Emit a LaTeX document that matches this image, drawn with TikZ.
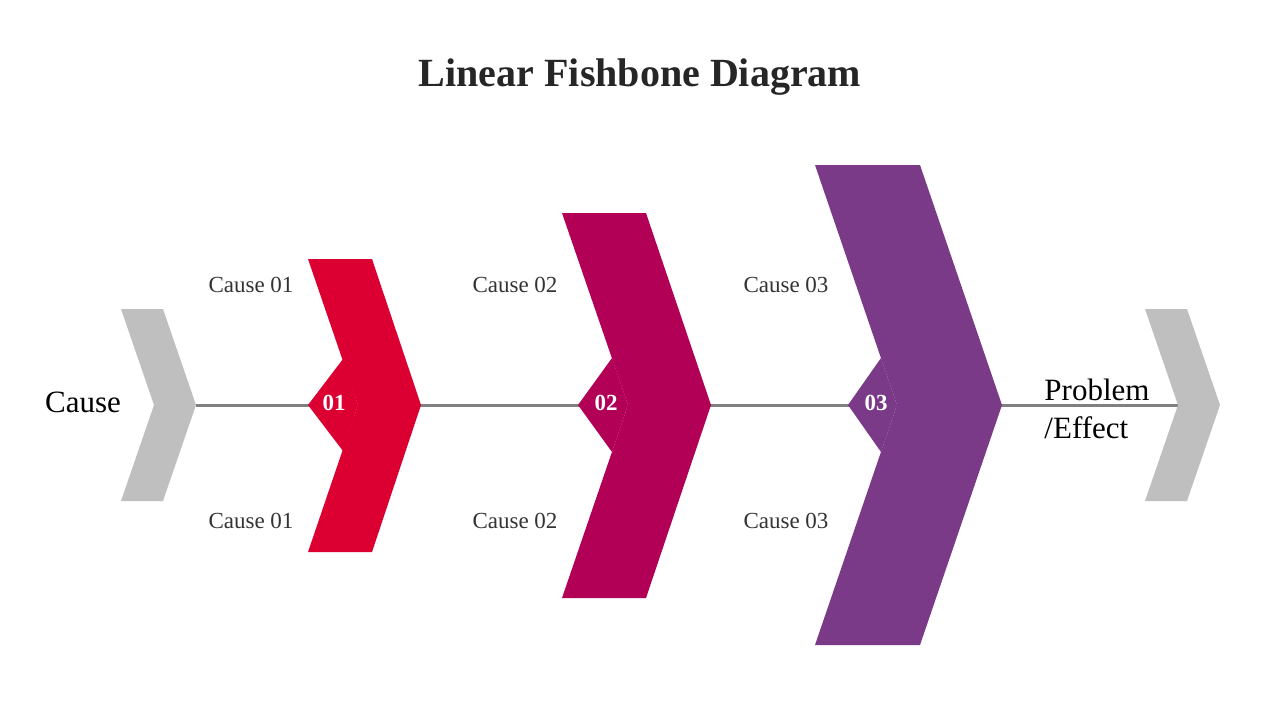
\documentclass[tikz,border=0pt]{standalone}
\usepackage{fontspec}
\setmainfont{Liberation Serif}
\begin{document}
\begin{tikzpicture}[x=1pt,y=-1pt,
  lbl/.style={font=\fontsize{23}{26}\selectfont,text=black!80},
  num/.style={font=\fontsize{23}{26}\selectfont\bfseries,text=white}]
\definecolor{colred}{HTML}{DC0032}\definecolor{colmag}{HTML}{B30057}
\definecolor{colpur}{HTML}{7B3A87}\definecolor{colgry}{HTML}{BFBFBF}
\useasboundingbox (0,0) rectangle (1280,720);
\fill[white] (0,0) rectangle (1280,720);
\node[font=\fontsize{40}{44}\selectfont\bfseries,text=black!85] (title) at (640,77) {Linear Fishbone Diagram};
\coordinate (ls) at (196,405); \coordinate (le) at (1178,405);
\draw[line width=3pt,color=black!50] (ls) -- (le);
\fill[colgry] (121,309)--(163,309)--(196,405)--(163,501)--(121,501)--(154,405)--cycle;
\fill[colgry] (1145,309)--(1187,309)--(1220,405)--(1187,501)--(1145,501)--(1178,405)--cycle;
\fill[colred] (308,259)--(372,259)--(421,405)--(372,552)--(308,552)--(358,405)--cycle;
\fill[colred] (308,405)--(343,359)--(358,405)--(343,451)--cycle;
\fill[colmag] (562,213)--(646,213)--(711,405)--(646,598)--(562,598)--(628,405)--cycle;
\fill[colmag] (578,405)--(612,358)--(628,405)--(612,452)--cycle;
\fill[colpur] (815,165)--(920,165)--(1002,405)--(920,645)--(815,645)--(897,405)--cycle;
\fill[colpur] (848,405)--(881,358)--(897,405)--(881,452)--cycle;
\node[num] (n1) at (334,403) {01};
\node[num] (n2) at (606,403) {02};
\node[num] (n3) at (876,403) {03};
\node[lbl] (a1) at (251,285) {Cause 01};
\node[lbl] (b1) at (251,521) {Cause 01};
\node[lbl] (a2) at (515,285) {Cause 02};
\node[lbl] (b2) at (515,521) {Cause 02};
\node[lbl] (a3) at (786,285) {Cause 03};
\node[lbl] (b3) at (786,521) {Cause 03};
\node[font=\fontsize{31}{34}\selectfont] (cause) at (83,402) {Cause};
\node[font=\fontsize{31}{38}\selectfont,align=left] (eff) at (1097,409) {Problem\\/Effect};
\end{tikzpicture}
\end{document}
